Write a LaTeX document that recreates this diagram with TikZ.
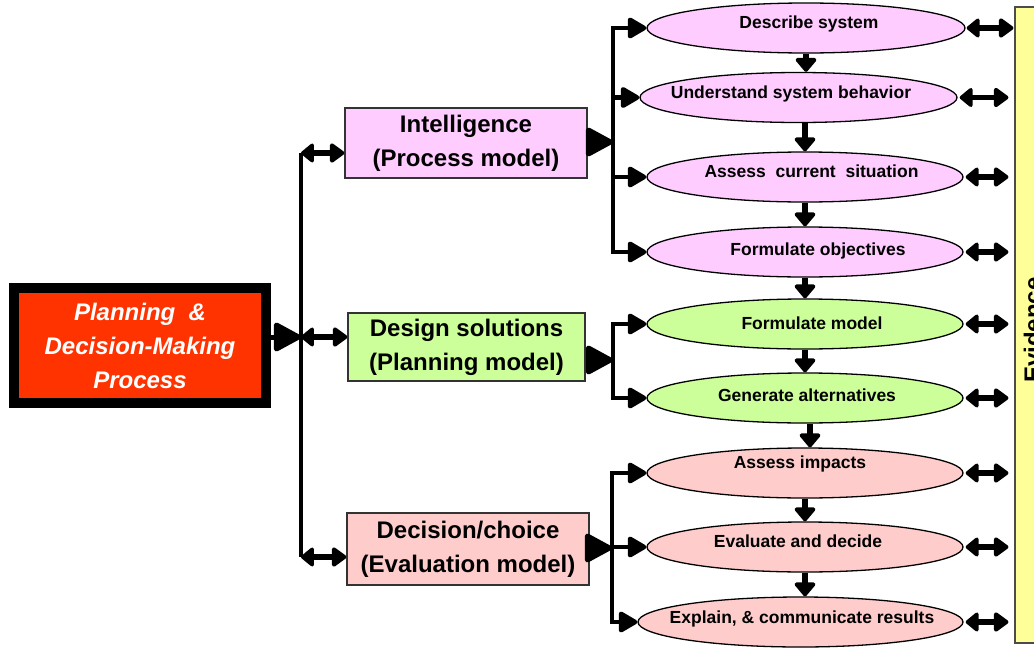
\documentclass[tikz,border=0pt]{standalone}
\usepackage{fontspec}
\setmainfont{Liberation Sans}
\usetikzlibrary{arrows.meta,shapes.geometric}

\definecolor{procred}{HTML}{FF3300}
\definecolor{intpink}{HTML}{FFCCFF}
\definecolor{desgreen}{HTML}{CCFF99}
\definecolor{evalrose}{HTML}{FFCCCC}
\definecolor{evyellow}{HTML}{FFFF99}

\begin{document}
\begin{tikzpicture}[x=1pt,y=-1pt,
  mainbox/.style={draw=black, line width=10pt, fill=procred, minimum width=252pt,
    minimum height=115pt, inner sep=0pt, text=white, align=center,
    font=\fontsize{24}{34}\selectfont\bfseries\itshape},
  phase/.style={draw=black!80, line width=1.3pt, inner sep=0pt, align=center,
    font=\fontsize{24}{34}\selectfont\bfseries},
  ell/.style={ellipse, draw=black, line width=1.3pt, minimum width=316pt,
    minimum height=50pt, inner sep=0pt},
  etext/.style={anchor=base, inner sep=0pt, font=\fontsize{17.5}{20}\selectfont\bfseries},
  evbox/.style={draw=black!70, line width=1.2pt, fill=evyellow, inner sep=0pt,
    minimum width=45pt, minimum height=636pt},
  trunk/.style={line width=4.5pt},
  feed/.style={line width=5pt, -{Triangle[round,length=30pt,width=31pt]}},
  branch/.style={line width=4.5pt, -{Triangle[round,length=21pt,width=23pt]}},
  twoway/.style={line width=5.5pt, {Triangle[round,length=14pt,width=22pt]}-{Triangle[round,length=16pt,width=22pt]}},
  downflow/.style={line width=5.5pt, -{Triangle[round,length=15pt,width=24pt]}}
]
\useasboundingbox (0,0) rectangle (1034,648);
\clip (0,0) rectangle (1034,648);

% evidence column on the right edge
\node[evbox] (ev) at (1037.5,325) {};
\node[rotate=90, anchor=base, inner sep=0pt, font=\fontsize{24}{28}\selectfont\bfseries]
  (evtext) at (1041,330) {Evidence};

% main process box
\node[mainbox] (pdm) at (140,345.5) {Planning~ \&\\Decision-Making\\Process};

% the three phases
\node[phase, fill=intpink, minimum width=242pt, minimum height=70pt] (intel) at (466,143)
  {Intelligence\\(Process model)};
\node[phase, fill=desgreen, minimum width=237pt, minimum height=68pt] (design) at (466.5,347)
  {Design solutions\\(Planning model)};
\node[phase, fill=evalrose, minimum width=242pt, minimum height=72pt] (decide) at (468,549)
  {Decision/choice\\(Evaluation model)};

% activity ellipses
\node[ell, fill=intpink, minimum width=318pt] (e1) at (806,28) {};
\node[ell, fill=intpink, minimum width=317pt] (e2) at (798.5,97.5) {};
\node[ell, fill=intpink] (e3) at (805,177) {};
\node[ell, fill=intpink] (e4) at (805,252) {};
\node[ell, fill=desgreen] (e5) at (805,324) {};
\node[ell, fill=desgreen] (e6) at (805,398) {};
\node[ell, fill=evalrose] (e7) at (805,473) {};
\node[ell, fill=evalrose] (e8) at (805,547) {};
\node[ell, fill=evalrose, minimum width=325pt] (e9) at (800.5,622) {};

\node[etext] (t1) at (809,28) {Describe system};
\node[etext] (t2) at (791,98) {Understand system behavior};
\node[etext] (t3) at (811.5,177) {Assess~ current~ situation};
\node[etext] (t4) at (818,255) {Formulate objectives};
\node[etext] (t5) at (812,329) {Formulate model};
\node[etext] (t6) at (807,401) {Generate alternatives};
\node[etext] (t7) at (800,468) {Assess impacts};
\node[etext] (t8) at (798,547) {Evaluate and decide};
\node[etext] (t9) at (802,623) {Explain, \& communicate results};

% left distribution bracket
\coordinate (jI) at (301,153);
\coordinate (jD) at (301,337);
\coordinate (jC) at (301,557);
\draw[trunk] (jI) -- (jC);
\draw[feed] (pdm.east |- jD) -- (jD);
\draw[twoway] (jI) -- (jI -| intel.west);
\draw[twoway] (jD) -- (jD -| design.west);
\draw[twoway] (jC) -- (jC -| decide.west);

% phase brackets
\coordinate (bI) at (613,142);
\coordinate (bD) at (613,360);
\coordinate (bC) at (612,548);
\draw[feed] (intel.east |- bI) -- (bI);
\draw[feed] (design.east |- bD) -- (bD);
\draw[feed] (decide.east |- bC) -- (bC);
\foreach \e in {e1,e2,e3,e4} \draw[branch] (bI) |- (\e.west);
\foreach \e in {e5,e6} \draw[branch] (bD) |- (\e.west);
\foreach \e in {e7,e8,e9} \draw[branch] (bC) |- (\e.west);

% sequence of activities
\draw[downflow] (e1.south) -- (e1.south |- e2.north);
\draw[downflow] (e3.north |- e2.south) -- (e3.north);
\draw[downflow] (e3.south) -- (e3.south |- e4.north);
\draw[downflow] (e4.south) -- (e4.south |- e5.north);
\draw[downflow] (e5.south) -- (e5.south |- e6.north);
\draw[downflow] ([xshift=5pt]e6.south) -- ([xshift=5pt]e7.north);
\draw[downflow] (e7.south) -- (e7.south |- e8.north);
\draw[downflow] (e8.south) -- (e8.south |- e9.north);

% links to the evidence column
\draw[twoway, shorten <=1pt, shorten >=1pt] (e1.east) -- (e1.east -| ev.west);
\foreach \e in {e2,e3,e4,e5,e6,e7,e8,e9}
  \draw[twoway, shorten <=2pt, shorten >=6pt] (\e.east) -- (\e.east -| ev.west);
\end{tikzpicture}
\end{document}
